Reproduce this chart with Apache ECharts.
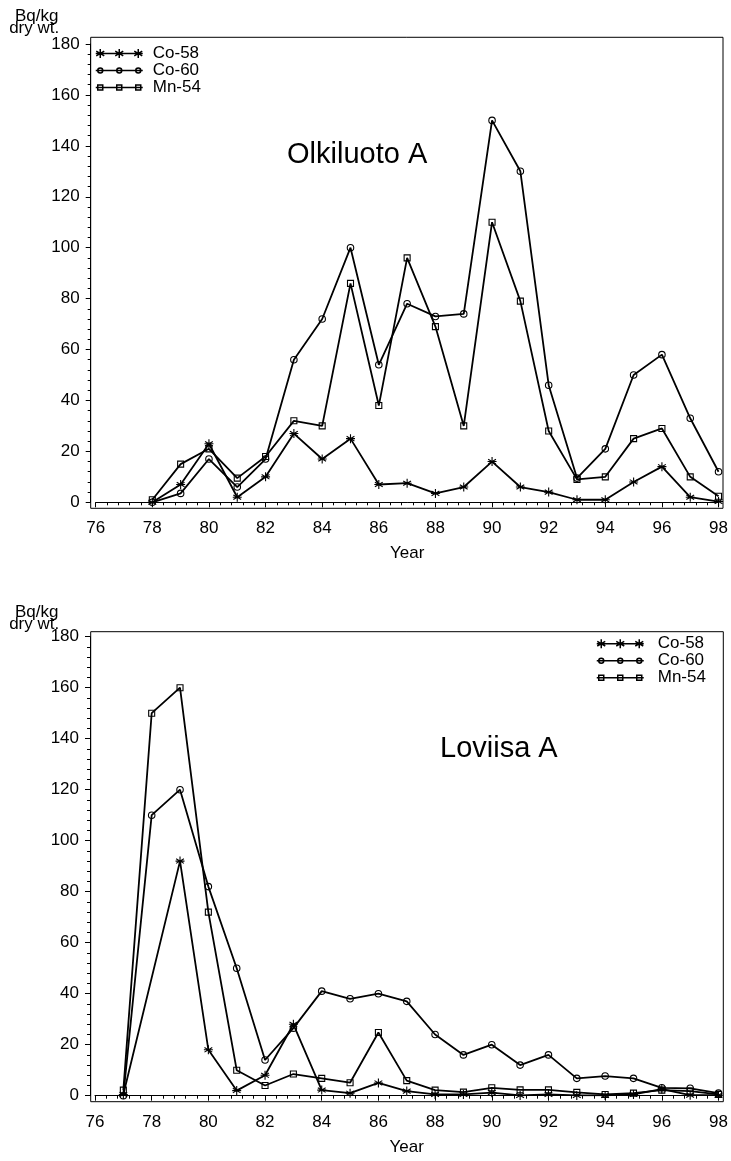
<!DOCTYPE html>
<html><head><meta charset="utf-8">
<script src="https://cdn.jsdelivr.net/npm/echarts@6/dist/echarts.min.js"></script>
<style>html,body{margin:0;padding:0;background:#fff}#c{width:731px;height:1161px}</style>
</head><body><div id="c"></div>
<script>
// ---- data (Bq/kg dry wt.) ----
const seriesNames = ['Co-58', 'Co-60', 'Mn-54'];
const yearsTop = [78,79,80,81,82,83,84,85,86,87,88,89,90,91,92,93,94,95,96,97,98];
const co58Top = [0, 7, 23, 2, 10, 27, 17, 25, 7, 7.5, 3.5, 6, 16, 6, 4, 1, 1, 8, 14, 2, 0.3];
const co60Top = [0, 3.5, 17, 6, 17, 56, 72, 100, 54, 78, 73, 74, 150, 130, 46, 9.5, 21, 50, 58, 33, 12];
const mn54Top = [1, 15, 21, 9.5, 18, 32, 30, 86, 38, 96, 69, 30, 110, 79, 28, 9, 10, 25, 29, 10, 2.4];
const yearsBottom = [77,78,79,80,81,82,83,84,85,86,87,88,89,90,91,92,93,94,95,96,97,98];
const co58Bottom = [0.5, null, 92, 18, 2, 8, 28, 2.2, 1, 5, 1.8, 0.5, 0.5, 1.2, 0.1, 0.5, 0.1, 0.1, 0.5, 2.6, 0.2, 0.2];
const co60Bottom = [0, 110, 120, 82, 50, 14, 26.5, 41, 38, 40, 37, 24, 16, 20, 12, 16, 6.8, 7.7, 6.8, 3.1, 2.9, 1];
const mn54Bottom = [2.2, 150, 160, 72, 10, 4, 8.5, 6.8, 5.1, 24.8, 5.9, 2.2, 1.4, 3.1, 2.3, 2.3, 1.3, 0.5, 1, 2.2, 1.8, 0.5];
const xMin = 76, xMax = 98, xStep = 2;
const yMin = 0, yMax = 180, yStep = 20;
const panelTitles = ['Olkiluoto A', 'Loviisa A'];
const unitLines = ['Bq/kg', 'dry wt.'];
const xName = 'Year';

// ---- styling ----
const FONT = "'Liberation Sans', Arial, sans-serif";
const symbols = ['path://M0,-4.5L0,4.5M-4.5,0L4.5,0M-3.9,-2.3L3.9,2.3M-3.9,2.3L3.9,-2.3', 'circle', 'rect'];
const symbolSizes = [9, 6.5, 6];
const iconX = [4.5, 23.5, 42.5];
function starIcon(){ let p='M0,6L47,6'; iconX.forEach(c=>{p+=`M${c},1.5L${c},10.5M${c-4},3.7L${c+4},8.3M${c-4},8.3L${c+4},3.7`;}); return 'path://'+p; }
function circIcon(){ let p='M0,6L47,6'; iconX.forEach(c=>{p+=`M${c-2.5},6A2.5,2.5 0 1,0 ${c+2.5},6A2.5,2.5 0 1,0 ${c-2.5},6`;}); return 'path://'+p; }
function sqIcon(){ let p='M0,6L47,6'; iconX.forEach(c=>{p+=`M${c-2.5},3.5L${c+2.5},3.5L${c+2.5},8.5L${c-2.5},8.5Z`;}); return 'path://'+p; }
const icons = [starIcon(), circIcon(), sqIcon()];

function pairs(xs, ys){ return xs.map((x,i)=>[x, ys[i]]).filter(d=>d[1]!==null); }

function dataAxes(gridIndex){
  return {
    x: {type:'value', gridIndex, min:xMin, max:xMax, interval:xStep, offset:6,
        axisLine:{show:true, lineStyle:{color:'#000', width:1}},
        axisTick:{show:true, length:5, lineStyle:{color:'#000', width:1}},
        minorTick:{show:true, splitNumber:5, length:3, lineStyle:{color:'#000', width:1}},
        splitLine:{show:false},
        axisLabel:{color:'#000', fontFamily:FONT, fontSize:17, margin:12},
        name:xName, nameLocation:'middle', nameGap:37,
        nameTextStyle:{color:'#000', fontFamily:FONT, fontSize:17}},
    y: {type:'value', gridIndex, min:yMin, max:yMax, interval:yStep, offset:5,
        axisLine:{show:true, lineStyle:{color:'#000', width:1}},
        axisTick:{show:true, length:5, lineStyle:{color:'#000', width:1}},
        minorTick:{show:true, splitNumber:5, length:3, lineStyle:{color:'#000', width:1}},
        splitLine:{show:false},
        axisLabel:{color:'#000', fontFamily:FONT, fontSize:17, margin:11}}
  };
}
function hiddenAxes(gridIndex){
  return {x:{type:'value', gridIndex, show:false, min:0, max:1}, y:{type:'value', gridIndex, show:false, min:0, max:1}};
}
const a0 = dataAxes(0), a1 = hiddenAxes(1), a2 = dataAxes(2), a3 = hiddenAxes(3);

function mkSeries(name, idx, data, axisIndex){
  return {
    type:'line', name, data, xAxisIndex:axisIndex, yAxisIndex:axisIndex,
    symbol:symbols[idx], symbolSize:symbolSizes[idx], showAllSymbol:true,
    connectNulls:true, animation:false,
    lineStyle:{color:'#000', width:1.8},
    itemStyle:{color:'transparent', borderColor:'#000', borderWidth:1.1},
    emphasis:{disabled:true}
  };
}

function legendCfg(left, top, rowH, textPad){
  return {
    orient:'vertical', left, top, padding:0, itemGap:0, itemWidth:47, itemHeight:12,
    selectedMode:false, symbolKeepAspect:true,
    itemStyle:{color:'transparent', borderColor:'#000', borderWidth:1.5},
    textStyle:{color:'#000', fontFamily:FONT, fontSize:17, lineHeight:rowH, padding:[0,0,0,textPad]},
    data: seriesNames.map((n,i)=>({name:n, icon:icons[i]}))
  };
}

const chart = echarts.init(document.getElementById('c'), null, {renderer:'canvas'});
chart.setOption({
  backgroundColor:'#fff',
  animation:false,
  grid:[
    {left:95.7, right:12, top:44, bottom:658.7},
    {left:90.7, right:8, top:37.3, bottom:652.7, show:true, borderColor:'#000', borderWidth:1, backgroundColor:'transparent'},
    {left:95, right:12.5, top:636.7, bottom:65.3},
    {left:90.7, right:7.7, top:631.7, bottom:59.3, show:true, borderColor:'#000', borderWidth:1, backgroundColor:'transparent'}
  ],
  xAxis:[a0.x, a1.x, a2.x, a3.x],
  yAxis:[a0.y, a1.y, a2.y, a3.y],
  legend:[legendCfg(95, 45, 14.7, 5), legendCfg(596, 635.2, 16.3, 9)],
  graphic:[
    {type:'text', style:{x:287, y:155, text:panelTitles[0], font:`29px ${FONT}`, fill:'#000', verticalAlign:'middle'}},
    {type:'text', style:{x:440, y:749, text:panelTitles[1], font:`29px ${FONT}`, fill:'#000', verticalAlign:'middle'}},
    {type:'text', style:{x:36.7, y:16.5, text:unitLines[0], font:`17px ${FONT}`, fill:'#000', align:'center', verticalAlign:'middle'}},
    {type:'text', style:{x:34.2, y:28, text:unitLines[1], font:`17px ${FONT}`, fill:'#000', align:'center', verticalAlign:'middle'}},
    {type:'text', style:{x:36.7, y:612.5, text:unitLines[0], font:`17px ${FONT}`, fill:'#000', align:'center', verticalAlign:'middle'}},
    {type:'text', style:{x:34.2, y:624, text:unitLines[1], font:`17px ${FONT}`, fill:'#000', align:'center', verticalAlign:'middle'}}
  ],
  series:[
    mkSeries(seriesNames[0], 0, pairs(yearsTop, co58Top), 0),
    mkSeries(seriesNames[1], 1, pairs(yearsTop, co60Top), 0),
    mkSeries(seriesNames[2], 2, pairs(yearsTop, mn54Top), 0),
    mkSeries(seriesNames[0], 0, pairs(yearsBottom, co58Bottom), 2),
    mkSeries(seriesNames[1], 1, pairs(yearsBottom, co60Bottom), 2),
    mkSeries(seriesNames[2], 2, pairs(yearsBottom, mn54Bottom), 2)
  ]
});
</script></body></html>
